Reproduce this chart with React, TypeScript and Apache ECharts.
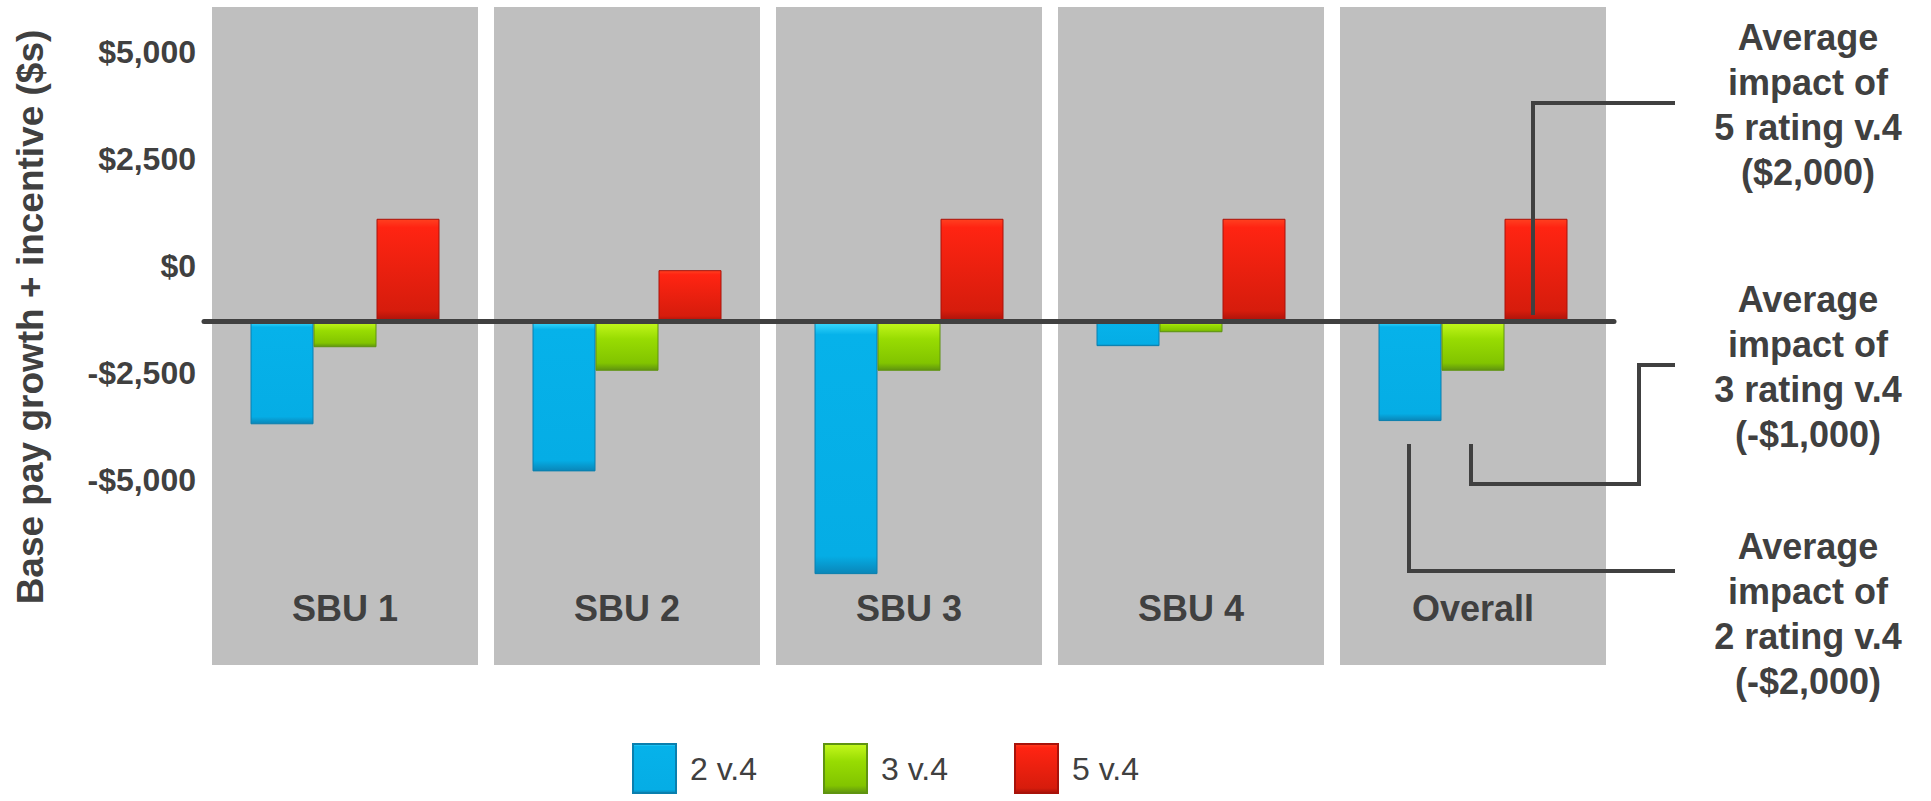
import React, { useEffect, useRef } from "react";
import * as echarts from "echarts";

const categories = ["SBU 1", "SBU 2", "SBU 3", "SBU 4", "Overall"];
const seriesNames = ["2 v.4", "3 v.4", "5 v.4"];
// values measured from the dark baseline ($s)
const rating2 = [-2400, -3500, -5900, -575, -2325];
const rating3 = [-600, -1150, -1150, -250, -1150];
const rating5 = [2400, 1200, 2400, 2400, 2400];
// tick labels shown on the value axis, and their offset from the baseline
const yTickLabels = [-5000, -2500, 0, 2500, 5000];
const labelOffset = 1300;

const annotations = [
  "Average\nimpact of\n5 rating v.4\n($2,000)",
  "Average\nimpact of\n3 rating v.4\n(-$1,000)",
  "Average\nimpact of\n2 rating v.4\n(-$2,000)",
];

const FONT = "'Liberation Sans', Arial, Helvetica, sans-serif";
const TEXT = "#404040";

const grad = (stops: [number, string][]) =>
  new echarts.graphic.LinearGradient(
    0, 0, 0, 1,
    stops.map(([offset, color]) => ({ offset, color }))
  );

const colors = [
  grad([[0, "#3ddcff"], [0.05, "#06b2ea"], [0.93, "#05ade5"], [1, "#0a86b8"]]),
  grad([[0, "#c4f81c"], [0.35, "#98dc02"], [0.85, "#82c400"], [1, "#5f9410"]]),
  grad([[0, "#ff4020"], [0.08, "#ff2412"], [0.9, "#d61c0c"], [1, "#a8120a"]]),
];
const borders = ["#0a7fae", "#5f9410", "#a8120a"];

function fmt(v: number) {
  const L = v - labelOffset;
  if (!yTickLabels.includes(L)) return "";
  const s = "$" + Math.abs(L).toLocaleString("en-US");
  return L < 0 ? "-" + s : s;
}

export default function App() {
  const ref = useRef<HTMLDivElement>(null);
  useEffect(() => {
    if (!ref.current) return;
    const chart = echarts.init(ref.current, undefined, { renderer: "svg" });
    const values = [rating2, rating3, rating5];
    chart.setOption({
      animation: false,
      backgroundColor: "#ffffff",
      textStyle: { fontFamily: FONT },
      grid: [
        { left: 204, right: 317, top: 7, bottom: 136 },
        { left: 204, right: 317, top: 9, bottom: 107 },
      ],
      legend: {
        data: seriesNames,
        left: 632,
        top: 743,
        padding: 0,
        itemWidth: 43,
        itemHeight: 49,
        itemGap: 66,
        icon: "rect",
        textStyle: { fontSize: 32, color: TEXT, fontFamily: FONT, padding: [0, 0, 0, 9] },
      },
      xAxis: [
        {
          gridIndex: 0,
          type: "category",
          data: categories,
          z: 20,
          axisLine: { show: false },
          axisTick: { show: false },
          axisLabel: {
            margin: -57,
            verticalAlign: "middle",
            fontSize: 36,
            fontWeight: "bold",
            color: TEXT,
            fontFamily: FONT,
          },
        },
        {
          gridIndex: 1,
          type: "category",
          data: categories,
          z: 10,
          axisLine: { show: true, onZero: true, lineStyle: { color: TEXT, width: 5 } },
          axisTick: { show: false },
          axisLabel: { show: false },
        },
      ],
      yAxis: [
        { gridIndex: 0, type: "value", min: 0, max: 1, show: false },
        {
          gridIndex: 1,
          type: "value",
          min: -8700,
          max: 7300,
          interval: 2500,
          axisLine: { show: false },
          axisTick: { show: false },
          splitLine: { show: false },
          axisLabel: {
            margin: 8,
            fontSize: 32,
            fontWeight: "bold",
            color: TEXT,
            fontFamily: FONT,
            formatter: fmt,
            showMaxLabel: false,
          },
        },
      ],
      series: [
        {
          name: "panel",
          type: "bar",
          xAxisIndex: 0,
          yAxisIndex: 0,
          data: categories.map(() => 1),
          barWidth: 266,
          itemStyle: { color: "#bfbfbf" },
          silent: true,
          z: 1,
        },
        ...seriesNames.map((name, i) => ({
          name,
          type: "bar",
          xAxisIndex: 1,
          yAxisIndex: 1,
          data: values[i],
          barWidth: 63,
          barGap: "0%",
          z: 3,
          itemStyle: { color: colors[i], borderWidth: 1, borderColor: borders[i] },
        })),
      ],
      graphic: [
        {
          type: "text",
          x: 30,
          y: 317,
          rotation: Math.PI / 2,
          z: 100,
          style: {
            text: "Base pay growth + incentive ($s)",
            fontSize: 37,
            fontWeight: "bold",
            fontFamily: FONT,
            fill: TEXT,
            align: "center",
            verticalAlign: "middle",
          },
        },
        ...annotations.map((t, i) => ({
          type: "text",
          x: 1808,
          y: [105, 367, 614][i],
          z: 100,
          style: {
            text: t,
            fontSize: 36,
            fontWeight: "bold",
            fontFamily: FONT,
            fill: TEXT,
            align: "center",
            verticalAlign: "middle",
            lineHeight: 45,
          },
        })),
        {
          type: "polyline",
          z: 100,
          shape: { points: [[1533, 315], [1533, 103], [1675, 103]] },
          style: { stroke: TEXT, lineWidth: 4, fill: "none" },
        },
        {
          type: "polyline",
          z: 100,
          shape: { points: [[1471, 444], [1471, 484], [1639, 484], [1639, 365], [1675, 365]] },
          style: { stroke: TEXT, lineWidth: 4, fill: "none" },
        },
        {
          type: "polyline",
          z: 100,
          shape: { points: [[1409, 444], [1409, 571], [1675, 571]] },
          style: { stroke: TEXT, lineWidth: 4, fill: "none" },
        },
      ],
    });
    return () => chart.dispose();
  }, []);
  return (
    <div
      ref={ref}
      style={{ position: "fixed", left: 0, top: 0, width: 1931, height: 801 }}
    />
  );
}
